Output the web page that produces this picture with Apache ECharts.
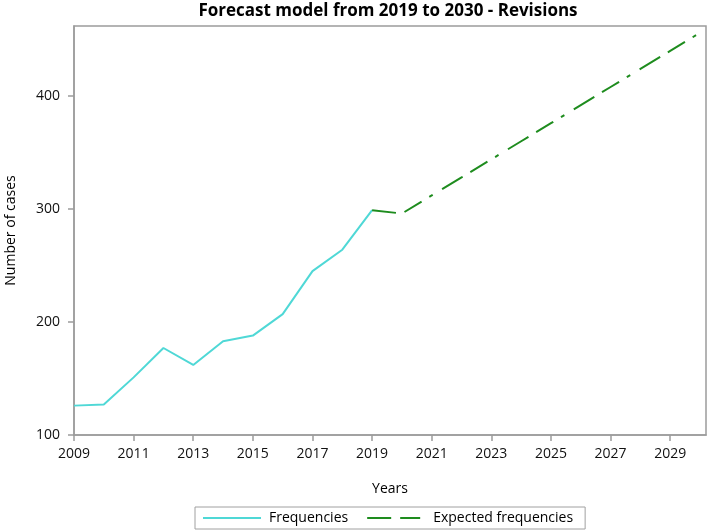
<!DOCTYPE html>
<html>
<head>
<meta charset="utf-8">
<script src="https://cdn.jsdelivr.net/npm/echarts@6/dist/echarts.min.js"></script>
<style>
html,body{margin:0;padding:0;background:#fff;}
#chart{width:708px;height:531px;}
</style>
</head>
<body>
<div id="chart"></div>
<script>
const titleText = 'Forecast model from 2019 to 2030 - Revisions';
const xName = 'Years';
const yName = 'Number of cases';
const observedName = 'Frequencies';
const forecastName = 'Expected frequencies';

const observedYears = [2009, 2010, 2011, 2012, 2013, 2014, 2015, 2016, 2017, 2018, 2019];
const observedValues = [126, 127, 151, 177, 162, 183, 188, 207, 245, 264, 299];

const forecastYears = [2019, 2020, 2021, 2022, 2023, 2024, 2025, 2026, 2027, 2028, 2029, 2030];
const forecastValues = [299, 296, 312, 328, 344, 360, 376, 392, 408, 424, 440, 456];

const FONT = 'Open Sans';
const AXIS_GRAY = '#9c9c9c';

const chart = echarts.init(document.getElementById('chart'), null, {renderer: 'canvas'});
chart.setOption({
  animation: false,
  backgroundColor: '#ffffff',
  title: {
    text: titleText,
    left: 388,
    textAlign: 'center',
    top: 3,
    padding: 0,
    textStyle: {fontFamily: FONT, fontSize: 17, fontWeight: 'bold', color: '#000'}
  },
  legend: {
    bottom: 2,
    left: 195,
    padding: [4, 12, 4, 7],
    borderColor: '#a0a0a0',
    borderWidth: 1,
    itemWidth: 58,
    itemHeight: 12,
    itemGap: 18,
    itemStyle: {opacity: 0},
    textStyle: {fontFamily: FONT, fontSize: 14, color: '#000', padding: [0, 0, 0, 3]},
    data: [observedName, forecastName]
  },
  grid: {
    left: 74, right: 2, top: 26, bottom: 96,
    containLabel: false,
    outerBoundsMode: 'none',
    show: true, borderColor: AXIS_GRAY, borderWidth: 1.5
  },
  xAxis: {
    type: 'value',
    min: 2009, max: 2030.2, interval: 2,
    name: xName, nameLocation: 'middle', nameGap: 47,
    nameTextStyle: {fontFamily: FONT, fontSize: 14, color: '#000'},
    axisLine: {show: true, lineStyle: {color: AXIS_GRAY, width: 1.5}},
    axisTick: {show: true, inside: false, length: 6, lineStyle: {color: AXIS_GRAY, width: 1.5}},
    axisLabel: {
      fontFamily: FONT, fontSize: 14, color: '#111', margin: 12,
      showMaxLabel: false,
      formatter: v => (v > 2030 ? '' : String(Math.round(v)))
    },
    splitLine: {show: false}
  },
  yAxis: {
    type: 'value',
    min: 100, max: 462, interval: 100,
    name: yName, nameLocation: 'middle', nameGap: 56,
    nameTextStyle: {fontFamily: FONT, fontSize: 14, color: '#000'},
    axisLine: {show: true, lineStyle: {color: AXIS_GRAY, width: 1.5}},
    axisTick: {show: true, inside: false, length: 6, lineStyle: {color: AXIS_GRAY, width: 1.5}},
    axisLabel: {
      fontFamily: FONT, fontSize: 14, color: '#111', margin: 14,
      showMaxLabel: false,
      formatter: v => (v > 450 ? '' : String(v))
    },
    splitLine: {show: false}
  },
  series: [
    {
      name: observedName,
      type: 'line',
      data: observedYears.map((y, i) => [y, observedValues[i]]),
      symbol: 'none',
      color: '#4fd8d6',
      lineStyle: {color: '#4fd8d6', width: 2}
    },
    {
      name: forecastName,
      type: 'line',
      data: forecastYears.map((y, i) => [y, forecastValues[i]]),
      symbol: 'none',
      color: '#1e8c1e',
      lineStyle: {color: '#1e8c1e', width: 2, type: [24, 9, 20, 9, 4, 11]}
    }
  ]
});
</script>
</body>
</html>
